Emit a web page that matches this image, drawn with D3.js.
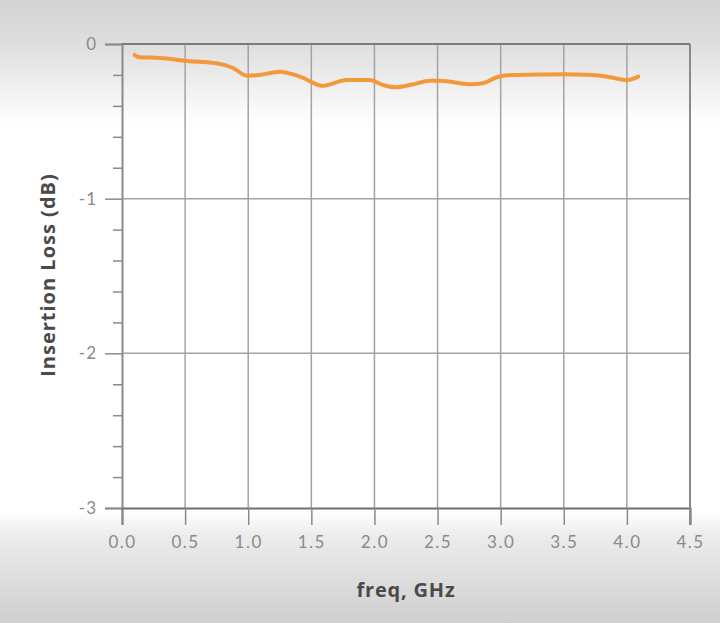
<!DOCTYPE html>
<html><head><meta charset="utf-8">
<script src="https://cdn.jsdelivr.net/npm/d3@7"></script>
<style>html,body{margin:0;padding:0;background:#fff}svg{display:block}</style>
</head><body>
<script>
const freqGHz = [0.10,0.14,0.30,0.52,0.75,0.88,0.99,1.09,1.25,1.41,1.59,1.78,1.96,2.07,2.16,2.30,2.44,2.52,2.76,2.86,2.97,3.10,3.30,3.49,3.73,3.87,4.00,4.09];
const lossDB  = [-0.071,-0.086,-0.090,-0.110,-0.125,-0.155,-0.205,-0.200,-0.179,-0.211,-0.271,-0.233,-0.233,-0.265,-0.280,-0.262,-0.237,-0.237,-0.260,-0.254,-0.215,-0.200,-0.198,-0.196,-0.200,-0.215,-0.233,-0.211];
const xTicks = [0,0.5,1,1.5,2,2.5,3,3.5,4,4.5];
const yTicks = [0,-1,-2,-3];
const yMinor = d3.range(0,-3.0001,-0.2);

const W=720,H=623;
const x = d3.scaleLinear().domain([0,4.5]).range([122,690]);
const y = d3.scaleLinear().domain([0,-3]).range([44,508]);

const svg = d3.select("body").append("svg").attr("width",W).attr("height",H);
const defs = svg.append("defs");
const g1 = defs.append("linearGradient").attr("id","bg").attr("x1",0).attr("y1",0).attr("x2",0).attr("y2",1);
[[0,"#d3d4d3"],[0.07,"#dddedd"],[0.18,"#fafafa"],[0.2,"#ffffff"],[0.82,"#ffffff"],[0.86,"#ececec"],[1,"#cfcfcf"]].forEach(s=>g1.append("stop").attr("offset",s[0]).attr("stop-color",s[1]));
svg.append("rect").attr("width",W).attr("height",H).attr("fill","url(#bg)");

const grid = svg.append("g");
grid.selectAll("line.v").data(xTicks.slice(1)).join("line")
  .attr("x1",d=>x(d)).attr("x2",d=>x(d)).attr("y1",y(0)).attr("y2",y(-3))
  .attr("stroke","#a3a3a3").attr("stroke-width",1.5);
grid.selectAll("line.h").data([0,-1,-2]).join("line")
  .attr("x1",x(0)).attr("x2",x(4.5)).attr("y1",d=>y(d)).attr("y2",d=>y(d))
  .attr("stroke","#a3a3a3").attr("stroke-width",1.5);

const labelFont = "Lato, 'Open Sans', sans-serif";
// y axis
const yAxis = d3.axisLeft(y).tickValues(yTicks).tickSize(17).tickFormat(d=>String(d));
const ya = svg.append("g").attr("transform",`translate(${x(0)},0)`).call(yAxis);
ya.select(".domain").attr("stroke","#8a8a8a").attr("stroke-width",2);
ya.selectAll(".tick line").attr("stroke","#8a8a8a").attr("stroke-width",1.5);
ya.selectAll(".tick text").attr("fill","#8a8a8a").attr("font-family",labelFont).attr("font-size",17).attr("dx",-5).attr("letter-spacing","1px");
const yMinorAxis = d3.axisLeft(y).tickValues(yMinor.filter(v=>Math.abs(v-Math.round(v))>0.01)).tickSize(9).tickFormat("");
const ym = svg.append("g").attr("transform",`translate(${x(0)},0)`).call(yMinorAxis);
ym.select(".domain").remove();
ym.selectAll(".tick line").attr("stroke","#8a8a8a").attr("stroke-width",1.5);

// x axis
const xAxis = d3.axisBottom(x).tickValues(xTicks).tickSize(17).tickFormat(d3.format(".1f"));
const xa = svg.append("g").attr("transform",`translate(0,${y(-3)})`).call(xAxis);
xa.select(".domain").attr("stroke","#6f6f6f").attr("stroke-width",2);
xa.selectAll(".tick line").attr("stroke","#8a8a8a").attr("stroke-width",1.5);
xa.selectAll(".tick text").attr("fill","#8a8a8a").attr("font-family",labelFont).attr("font-size",17).attr("dy","1.2em").attr("letter-spacing","1.5px");

// right & top border
svg.append("line").attr("x1",x(4.5)).attr("x2",x(4.5)).attr("y1",y(0)).attr("y2",y(-3)+17).attr("stroke","#8a8a8a").attr("stroke-width",2);
svg.append("line").attr("x1",x(0)).attr("x2",x(4.5)).attr("y1",y(0)).attr("y2",y(0)).attr("stroke","#7a7a7a").attr("stroke-width",2);

// data line
const line = d3.line().x((d,i)=>x(freqGHz[i])).y(d=>y(d)).curve(d3.curveMonotoneX);
svg.append("path").datum(lossDB).attr("d",line).attr("fill","none")
  .attr("stroke","#f2993a").attr("stroke-width",4).attr("stroke-linecap","round").attr("stroke-linejoin","round");

// titles
svg.append("text").attr("x",406).attr("y",597).attr("text-anchor","middle")
  .attr("font-family","'Open Sans', Lato, sans-serif").attr("font-weight","bold").attr("font-size",20).attr("letter-spacing","0.8px").attr("fill","#4a4a4a")
  .text("freq, GHz");
svg.append("text").attr("transform","translate(55,275) rotate(-90)").attr("text-anchor","middle")
  .attr("font-family","'Open Sans', Lato, sans-serif").attr("font-weight","bold").attr("font-size",20).attr("letter-spacing","1px").attr("fill","#4a4a4a")
  .text("Insertion Loss (dB)");
</script>
</body></html>
